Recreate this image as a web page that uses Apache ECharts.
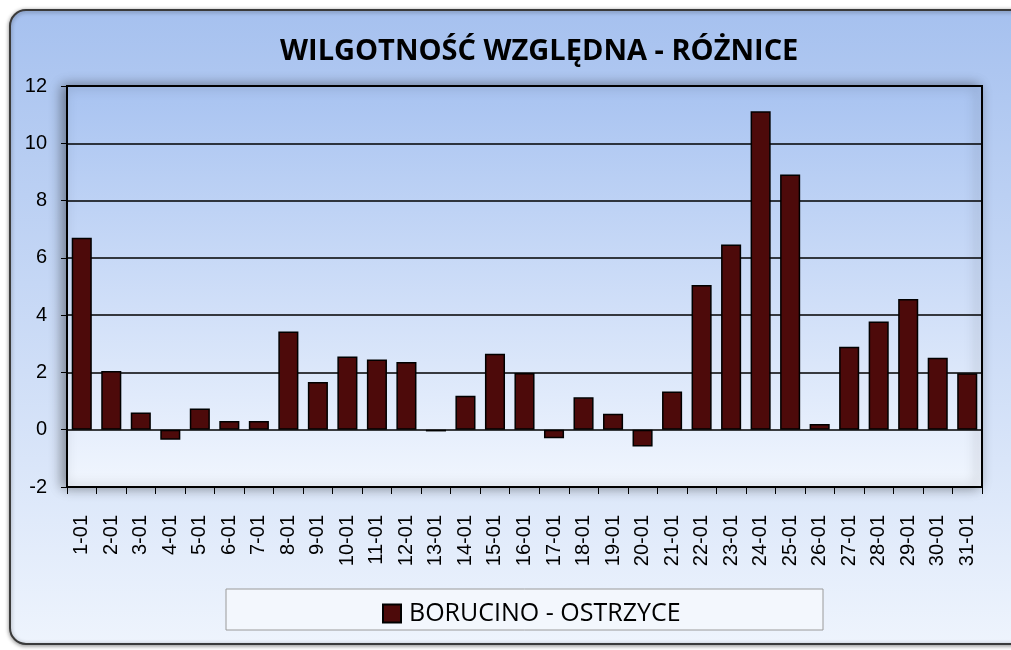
<!DOCTYPE html>
<html>
<head>
<meta charset="utf-8">
<script src="https://cdn.jsdelivr.net/npm/echarts@6/dist/echarts.min.js"></script>
<style>
  html, body { margin: 0; padding: 0; background: #fff; }
  #main { width: 1011px; height: 650px; }
</style>
</head>
<body>
<div id="main"></div>
<script>
// dni stycznia
var days = ["1-01", "2-01", "3-01", "4-01", "5-01", "6-01", "7-01", "8-01", "9-01", "10-01",
  "11-01", "12-01", "13-01", "14-01", "15-01", "16-01", "17-01", "18-01", "19-01", "20-01",
  "21-01", "22-01", "23-01", "24-01", "25-01", "26-01", "27-01", "28-01", "29-01", "30-01", "31-01"];
// roznice wilgotnosci wzglednej
var diffs = [6.7, 2.05, 0.6, -0.35, 0.74, 0.3, 0.3, 3.43, 1.67, 2.56,
  2.45, 2.36, -0.06, 1.19, 2.65, 1.98, -0.3, 1.13, 0.56, -0.59,
  1.33, 5.05, 6.47, 11.12, 8.91, 0.2, 2.9, 3.78, 4.56, 2.51, 1.97];
var seriesName = "BORUCINO - OSTRZYCE";
var yTicks = { min: -2, max: 12, interval: 2 };

var chart = echarts.init(document.getElementById("main"));
var option = {
  backgroundColor: "#ffffff",
  animation: false,
  graphic: [
    {
      type: "rect",
      z: -10,
      shape: { x: 10, y: 10, width: 1020, height: 634, r: 16 },
      style: {
        fill: new echarts.graphic.LinearGradient(0, 0, 0, 1, [
          { offset: 0, color: "#a6c1ef" },
          { offset: 1, color: "#eef4fd" }
        ]),
        stroke: "#3a3a3a",
        lineWidth: 2,
        shadowBlur: 4,
        shadowColor: "rgba(0,0,0,0.4)",
        shadowOffsetY: 1
      }
    },
    {
      type: "rect",
      z: -5,
      shape: { x: 226, y: 589, width: 597, height: 41 },
      style: { fill: "#f3f7fd", stroke: "#9a9a9a", lineWidth: 1 }
    }
  ],
  title: {
    text: "WILGOTNOŚĆ WZGLĘDNA - RÓŻNICE",
    left: 275,
    top: 32,
    textStyle: {
      fontFamily: "Open Sans",
      fontWeight: "bold",
      fontSize: 29,
      color: "#000"
    }
  },
  legend: {
    data: [seriesName],
    left: 377,
    top: 596,
    icon: "rect",
    itemWidth: 18,
    itemHeight: 18,
    textStyle: {
      fontFamily: "Open Sans",
      fontSize: 25,
      color: "#000",
      padding: [0, 0, 0, 3]
    }
  },
  grid: {
    left: 67,
    right: 29,
    top: 86,
    bottom: 163,
    show: true,
    borderColor: "#000",
    borderWidth: 2,
    backgroundColor: new echarts.graphic.LinearGradient(0, 0, 0, 1, [
      { offset: 0, color: "#a8c3f1" },
      { offset: 1, color: "#f1f6fe" }
    ]),
    shadowBlur: 12,
    shadowColor: "rgba(0,0,0,0.4)",
    shadowOffsetX: -4
  },
  xAxis: {
    type: "category",
    data: days,
    axisLine: { onZero: false, lineStyle: { color: "#000", width: 2 } },
    axisTick: { show: true, length: 7, lineStyle: { color: "#000" } },
    axisLabel: {
      rotate: 90,
      fontFamily: "Liberation Sans",
      fontSize: 20,
      color: "#000",
      margin: 28
    }
  },
  yAxis: {
    type: "value",
    min: yTicks.min,
    max: yTicks.max,
    interval: yTicks.interval,
    axisLine: { show: true, lineStyle: { color: "#000", width: 2 } },
    axisTick: { show: true, length: 6, lineStyle: { color: "#000" } },
    axisLabel: {
      fontFamily: "Liberation Sans",
      fontSize: 20,
      color: "#000",
      margin: 20
    },
    splitLine: { show: true, lineStyle: { color: "#000", width: 1.5 } }
  },
  series: [
    {
      name: seriesName,
      type: "bar",
      data: diffs,
      barCategoryGap: "32%",
      itemStyle: {
        color: "#4d0a0a",
        borderColor: "#000",
        borderWidth: 1.5
      }
    }
  ]
};
chart.setOption(option);
</script>
</body>
</html>
